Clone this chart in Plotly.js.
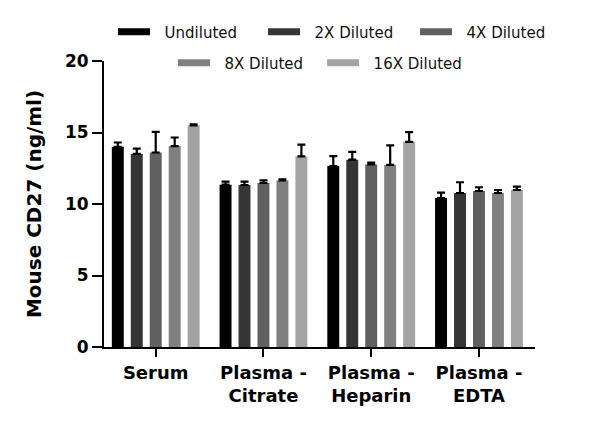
<!DOCTYPE html>
<html>
<head>
<meta charset="utf-8">
<script src="https://cdn.plot.ly/plotly-3.0.1.min.js"></script>
<style>html,body{margin:0;padding:0;background:#fff;}#chart{width:600px;height:441px;}</style>
</head>
<body>
<div id="chart"></div>
<script>
const categories = ["Serum", "Plasma -<br>Citrate", "Plasma -<br>Heparin", "Plasma -<br>EDTA"];
const seriesNames = ["Undiluted", "2X Diluted", "4X Diluted", "8X Diluted", "16X Diluted"];
const undiluted = [14.0, 11.35, 12.65, 10.42];
const diluted2x = [13.5, 11.33, 13.1, 10.77];
const diluted4x = [13.6, 11.47, 12.77, 10.91];
const diluted8x = [14.05, 11.65, 12.73, 10.77];
const diluted16x = [15.5, 13.33, 14.35, 10.98];
const err_undiluted = [0.3, 0.21, 0.7, 0.37];
const err_2x = [0.37, 0.23, 0.54, 0.75];
const err_4x = [1.45, 0.18, 0.12, 0.26];
const err_8x = [0.6, 0.07, 1.37, 0.21];
const err_16x = [0.07, 0.82, 0.68, 0.23];
const yTicks = [0, 5, 10, 15, 20];

const colors = ["#000000", "#353535", "#606060", "#808080", "#a3a3a3"];
const values = [undiluted, diluted2x, diluted4x, diluted8x, diluted16x];
const errs = [err_undiluted, err_2x, err_4x, err_8x, err_16x];
const xIdx = categories.map((c, i) => i);

const legendIds = ['legend', 'legend2', 'legend3', 'legend4', 'legend5'];
const legendX = [0.0209, 0.369, 0.7216, 0.160, 0.506];
const legendY = [1.101, 1.101, 1.101, 0.993, 0.993];

const traces = [];
values.forEach((v, i) => {
  traces.push({
    type: 'bar', x: xIdx, y: v, name: seriesNames[i], showlegend: false,
    marker: {color: colors[i], line: {width: 0}},
    error_y: {type: 'data', array: errs[i], arrayminus: v.map(() => 0), symmetric: false,
              color: '#000', thickness: 2.2, width: 4}
  });
});
seriesNames.forEach((n, i) => {
  traces.push({
    type: 'scatter', mode: 'lines', x: [null], y: [null], name: '\u00a0\u00a0' + n,
    line: {color: colors[i], width: 7},
    legend: legendIds[i], showlegend: true
  });
});

const legendFont = {family: '"DejaVu Sans", sans-serif', size: 15, color: '#111'};
const boldFont = (s) => ({family: '"DejaVu Sans", sans-serif', size: s, color: '#000', weight: 'bold'});
const layout = {
  width: 600, height: 441,
  margin: {l: 104, r: 65, t: 61, b: 94},
  paper_bgcolor: '#fff', plot_bgcolor: '#fff',
  barmode: 'group', bargap: 0.12, bargroupgap: 0.37,
  font: {family: '"DejaVu Sans", sans-serif', color: '#000'},
  xaxis: {
    range: [-0.48, 3.52], tickmode: 'array', tickvals: xIdx, ticktext: categories,
    showgrid: false, zeroline: false, showline: true, linecolor: '#000', linewidth: 2,
    ticks: 'outside', ticklen: 8, tickwidth: 2, tickcolor: '#000',
    tickfont: boldFont(18)
  },
  yaxis: {
    range: [0, 20], tickmode: 'array', tickvals: yTicks,
    showgrid: false, zeroline: false, showline: true, linecolor: '#000', linewidth: 2,
    ticks: 'outside', ticklen: 10, tickwidth: 2, tickcolor: '#000',
    tickfont: boldFont(17),
    title: {text: 'Mouse CD27 (ng/ml)', standoff: 18, font: boldFont(20)}
  },
  showlegend: true
};
legendIds.forEach((id, i) => {
  layout[id] = {orientation: 'h', x: legendX[i], xanchor: 'left', y: legendY[i], yanchor: 'middle',
                itemwidth: 32, font: legendFont, bgcolor: 'rgba(0,0,0,0)', borderwidth: 0};
});

Plotly.newPlot('chart', traces, layout, {displayModeBar: false, staticPlot: true});
</script>
</body>
</html>
